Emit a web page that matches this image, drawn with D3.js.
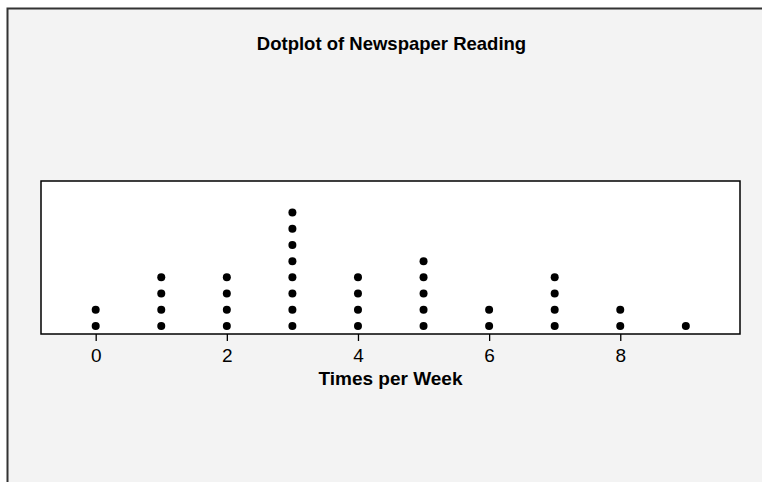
<!DOCTYPE html>
<html>
<head>
<meta charset="utf-8">
<script src="https://cdn.jsdelivr.net/npm/d3@7"></script>
<style>
  body { margin: 0; background: #ffffff; }
  text { font-family: "Liberation Sans", Arial, sans-serif; }
</style>
</head>
<body>
<div id="container"></div>
<script>
// times per week read and how many people gave each answer
const timesPerWeek = [0, 1, 2, 3, 4, 5, 6, 7, 8, 9];
const counts = [2, 4, 4, 8, 4, 5, 2, 4, 2, 1];
const tickValues = [0, 2, 4, 6, 8];
const title = "Dotplot of Newspaper Reading";
const xTitle = "Times per Week";

function main() {
    const width = 762, height = 482;
    const svg = d3.select("#container")
        .append("svg")
        .attr("width", width)
        .attr("height", height);

    // outer panel
    svg.append("rect")
        .attr("x", 7.5)
        .attr("y", 8.5)
        .attr("width", width)
        .attr("height", height)
        .attr("fill", "#f3f3f3")
        .attr("stroke", "#333")
        .attr("stroke-width", 2);

    const box = { left: 41, right: 740, top: 181, bottom: 334 };

    const x = d3.scaleLinear()
        .domain([-0.834, 9.826])
        .range([box.left, box.right]);
    const y = d3.scaleLinear()
        .domain([-0.5, 8.95])
        .range([box.bottom, box.top]);

    svg.append("rect")
        .attr("x", box.left)
        .attr("y", box.top)
        .attr("width", box.right - box.left)
        .attr("height", box.bottom - box.top)
        .attr("fill", "#fff")
        .attr("stroke", "#000")
        .attr("stroke-width", 1.5);

    // one dot per observation, stacked up from the axis
    let dots = [];
    timesPerWeek.forEach((v, i) => {
        for (let k = 0; k < counts[i]; k++) dots.push({ v: v, k: k });
    });
    svg.append("g")
        .selectAll("circle")
        .data(dots)
        .join("circle")
        .attr("cx", d => x(d.v))
        .attr("cy", d => y(d.k))
        .attr("r", 4)
        .attr("fill", "#000");

    const axis = svg.append("g")
        .attr("transform", `translate(0,${box.bottom})`)
        .call(d3.axisBottom(x).tickValues(tickValues).tickSize(7).tickFormat(d3.format("d")));
    axis.select(".domain").remove();
    axis.selectAll(".tick line").attr("stroke", "#000").attr("stroke-width", 1.3);
    axis.selectAll(".tick text")
        .style("font-family", "Liberation Sans, Arial, sans-serif")
        .style("font-size", "19px")
        .attr("fill", "#000")
        .attr("dy", null)
        .attr("y", 27.5);

    svg.append("text")
        .attr("x", 390.5)
        .attr("y", 385)
        .attr("text-anchor", "middle")
        .style("font-size", "19px")
        .attr("font-weight", "bold")
        .text(xTitle);

    svg.append("text")
        .attr("x", 391.5)
        .attr("y", 50)
        .attr("text-anchor", "middle")
        .style("font-size", "18.5px")
        .attr("font-weight", "bold")
        .text(title);
}
main();
</script>
</body>
</html>
